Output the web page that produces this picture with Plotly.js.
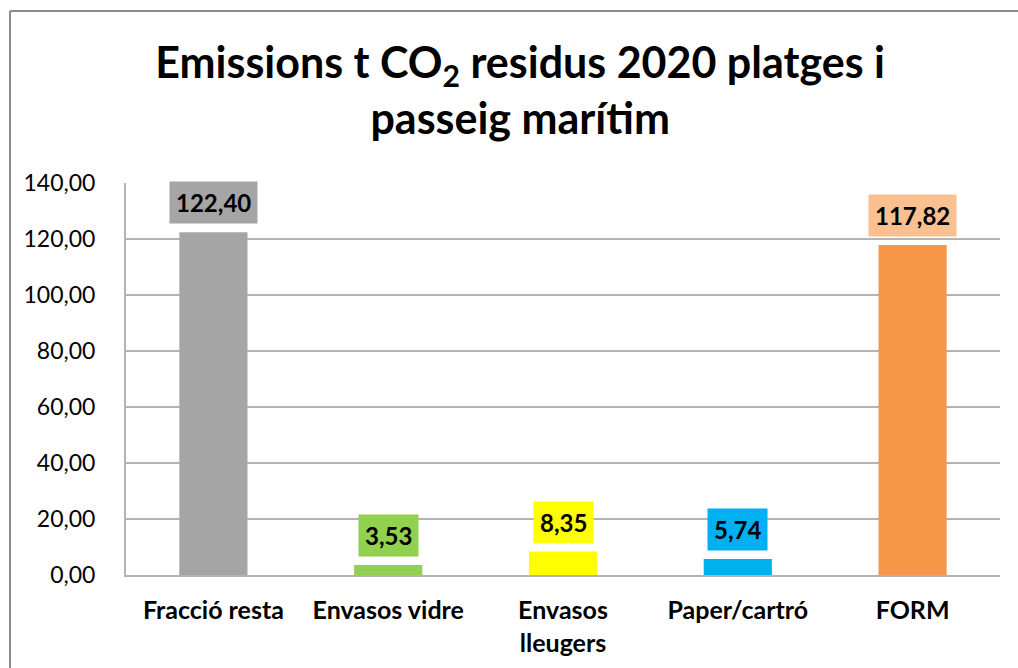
<!DOCTYPE html>
<html>
<head>
<meta charset="utf-8">
<script src="https://cdn.plot.ly/plotly-3.0.1.min.js"></script>
<style>html,body{margin:0;padding:0;background:#fff;}#chart{width:1018px;height:668px;}</style>
</head>
<body>
<div id="chart"></div>
<script>
const categories = ["Fracció resta", "Envasos vidre", "Envasos<br>lleugers", "Paper/cartró", "FORM"];
const values = [122.40, 3.53, 8.35, 5.74, 117.82];
const barColors = ["#a5a5a5", "#92d050", "#ffff00", "#00b0f0", "#f79646"];
const labelColors = ["#a5a5a5", "#92d050", "#ffff00", "#00b0f0", "#fac090"];
const yTicks = [0, 20, 40, 60, 80, 100, 120, 140];
const titleText = "Emissions t CO<sub>2</sub> residus 2020 platges i<br>passeig marítim";

const FONT = "Lato, 'Open Sans', sans-serif";
const fmt = v => v.toFixed(2).replace('.', ',');

const trace = {
  type: 'bar',
  x: categories,
  y: values,
  marker: {color: barColors, line: {width: 0}},
  width: 0.39,
  hoverinfo: 'skip'
};

const annotations = categories.map((c, i) => ({
  x: c, y: values[i], xref: 'x', yref: 'y',
  text: '<b>' + fmt(values[i]) + '</b>',
  showarrow: false, yanchor: 'bottom', yshift: 8,
  bgcolor: labelColors[i], borderpad: 6,
  font: {family: FONT, size: 24, color: '#000'}
}));

const layout = {
  width: 1018, height: 668,
  paper_bgcolor: '#fff', plot_bgcolor: '#fff',
  margin: {l: 126, r: 18, t: 183, b: 93},
  title: {
    text: '<b>' + titleText + '</b>',
    x: 0.511, xref: 'container', xanchor: 'center',
    y: 0.8835, yref: 'container', yanchor: 'middle',
    font: {family: FONT, size: 43, color: '#000'}
  },
  showlegend: false,
  bargap: 0.61,
  xaxis: {
    showgrid: false, showline: true, linecolor: '#b3b3b3', linewidth: 2,
    ticks: '', ticklabelstandoff: 12,
    tickfont: {family: FONT, size: 25, color: '#000', weight: 'bold'},
    fixedrange: true
  },
  yaxis: {
    range: [0, 140], tickvals: yTicks, ticktext: yTicks.map(fmt),
    showgrid: true, gridcolor: '#b3b3b3', gridwidth: 2,
    showline: true, linecolor: '#b3b3b3', linewidth: 2,
    zeroline: false, ticks: '', ticklabelstandoff: 24,
    tickfont: {family: FONT, size: 23, color: '#000'},
    fixedrange: true
  },
  annotations: annotations,
  shapes: [
    {type: 'line', xref: 'paper', yref: 'paper', x0: (10 - 126) / 874, x1: (1018 - 126) / 874, y0: (575 - 11) / 392, y1: (575 - 11) / 392, line: {color: '#8c8c8c', width: 2}},
    {type: 'line', xref: 'paper', yref: 'paper', x0: (10 - 126) / 874, x1: (10 - 126) / 874, y0: (575 - 11) / 392, y1: (575 - 668) / 392, line: {color: '#8c8c8c', width: 2}}
  ]
};

Plotly.newPlot('chart', [trace], layout, {displayModeBar: false, staticPlot: true});
</script>
</body>
</html>
